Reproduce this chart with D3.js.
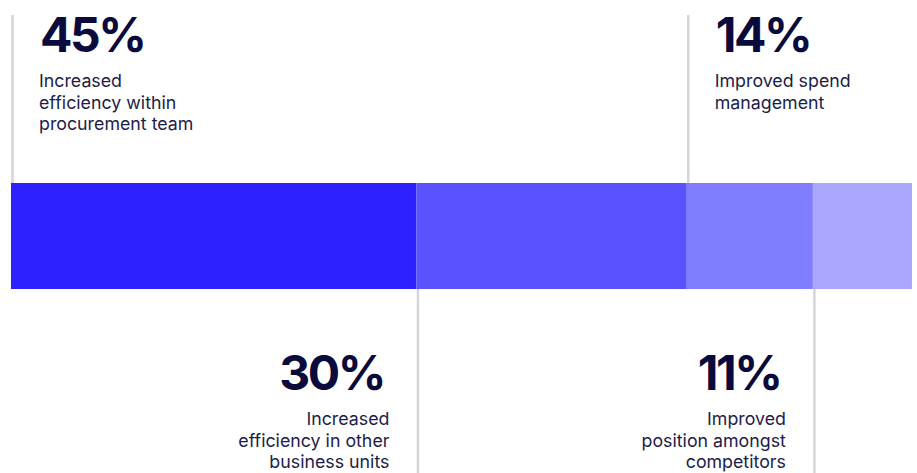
<!DOCTYPE html>
<html>
<head>
<meta charset="utf-8">
<script src="https://cdn.jsdelivr.net/npm/d3@7"></script>
<style>
  html, body { margin: 0; padding: 0; background: #ffffff; }
  svg { display: block; }
  text { font-family: Inter, "Noto Sans", sans-serif; }
</style>
</head>
<body>
<svg id="chart" width="917" height="473"></svg>
<script>
// Share of respondents by benefit, shown as one stacked bar
const categories = [
  ["Increased", "efficiency within", "procurement team"],
  ["Increased", "efficiency in other", "business units"],
  ["Improved spend", "management"],
  ["Improved", "position amongst", "competitors"]
];
const values = [45, 30, 14, 11];
const valueLabels = ["45%", "30%", "14%", "11%"];
const palette = ["#2d21ff", "#5a52ff", "#817dff", "#aba7fc"];

const W = 917, H = 473;
const barTop = 183, barBottom = 289;
const numSpacing = -2.5;

const svg = d3.select("#chart");

const starts = d3.cumsum([0, ...values.slice(0, -1)]);
const data = values.map((v, i) => ({
  i, value: v, start: starts[i], lines: categories[i], label: valueLabels[i]
}));

const x = d3.scaleLinear().domain([0, d3.sum(values)]).range([11, 912]);
const color = d3.scaleOrdinal().domain(d3.range(values.length)).range(palette);

// bar segments
svg.append("g").selectAll("rect")
  .data(data).join("rect")
  .attr("x", d => x(d.start))
  .attr("y", barTop)
  .attr("width", d => x(d.start + d.value) - x(d.start))
  .attr("height", barBottom - barTop)
  .attr("fill", d => color(d.i));

// leader lines at the start of each segment; even items above, odd below
const above = d => d.i % 2 === 0;
svg.append("g").selectAll("line")
  .data(data).join("line")
  .attr("x1", d => x(d.start) + 1.5)
  .attr("x2", d => x(d.start) + 1.5)
  .attr("y1", d => above(d) ? 15 : barBottom)
  .attr("y2", d => above(d) ? barTop : H)
  .attr("stroke", "#d5d5d7")
  .attr("stroke-width", 2.5);

// annotations
const ann = svg.append("g").selectAll("g")
  .data(data).join("g")
  .attr("transform", d => above(d)
    ? `translate(${x(d.start) + 28},0)`
    : `translate(${x(d.start) - 27},0)`);

ann.append("text")
  .attr("x", d => above(d) ? 1 : numSpacing - 3)
  .attr("y", d => above(d) ? 51.5 : 389.5)
  .attr("text-anchor", d => above(d) ? "start" : "end")
  .attr("font-size", 48)
  .attr("font-weight", 700)
  .attr("letter-spacing", numSpacing)
  .attr("fill", "#0b0a3c")
  .text(d => d.label);

ann.append("text")
  .attr("text-anchor", d => above(d) ? "start" : "end")
  .attr("font-size", 17.8)
  .attr("fill", "#1d1c4a")
  .selectAll("tspan")
  .data(d => d.lines.map((t, k) => ({ t, k, d })))
  .join("tspan")
  .attr("x", 0)
  .attr("y", o => (above(o.d) ? 87.3 : 425) + o.k * 21.5)
  .text(o => o.t);
</script>
</body>
</html>
